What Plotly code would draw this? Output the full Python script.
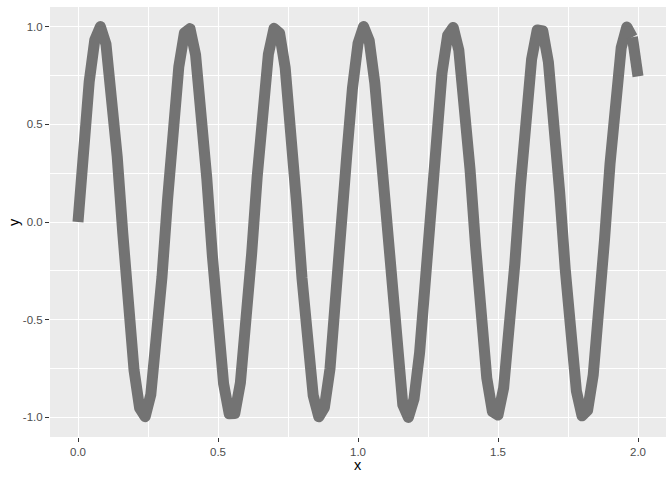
import plotly.graph_objects as go

x_vals = [round(0.02 * i, 2) for i in range(101)]
y_vals = [
    0.0000, 0.3894, 0.7174, 0.9320, 0.9996, 0.9093, 0.6755, 0.3350, -0.0584, -0.4425,
    -0.7568, -0.9516, -0.9962, -0.8835, -0.6313, -0.2794, 0.1165, 0.4941, 0.7937, 0.9679,
    0.9894, 0.8546, 0.5849, 0.2229, -0.1743, -0.5440, -0.8278, -0.9811, -0.9792, -0.8228,
    -0.5366, -0.1656, 0.2315, 0.5921, 0.8589, 0.9906, 0.9657, 0.7880, 0.4863, 0.1078,
    -0.2879, -0.6381, -0.8876, -0.9968, -0.9495, -0.7510, -0.4345, -0.0496, 0.3433, 0.6819,
    0.9129, 0.9998, 0.9289, 0.7115, 0.3820, -0.0089, -0.3971, -0.7254, -0.9350, -0.9997,
    -0.9056, -0.6685, -0.3268, 0.0672, 0.4505, 0.7626, 0.9543, 0.9954, 0.8797, 0.6247,
    0.2709, -0.1252, -0.5019, -0.7991, -0.9702, -0.9880, -0.8505, -0.5785, -0.2144, 0.1830,
    0.5514, 0.8327, 0.9826, 0.9773, 0.8180, 0.5291, 0.1567, -0.2400, -0.5989, -0.8645,
    -0.9918, -0.9638, -0.7840, -0.4805, -0.0989, 0.2964, 0.6450, 0.8915, 0.9976, 0.9459,
    0.7451,
]

x_ticks = [0.0, 0.5, 1.0, 1.5, 2.0]
x_labels = ["0.0", "0.5", "1.0", "1.5", "2.0"]
y_ticks = [-1.0, -0.5, 0.0, 0.5, 1.0]
y_labels = ["-1.0", "-0.5", "0.0", "0.5", "1.0"]
x_minor = [0.25, 0.75, 1.25, 1.75]
y_minor = [-0.75, -0.25, 0.25, 0.75]

line_color = "#737373"
font_family = "Liberation Sans, Arial, sans-serif"

fig = go.Figure()
fig.add_trace(go.Scatter(x=x_vals[:-1], y=y_vals[:-1], mode="lines",
                         line=dict(color=line_color, width=11), showlegend=False,
                         hoverinfo="skip"))
fig.add_trace(go.Scatter(x=x_vals[-2:], y=y_vals[-2:], mode="lines",
                         line=dict(color=line_color, width=11), showlegend=False,
                         hoverinfo="skip"))

axis_common = dict(
    showgrid=True, gridcolor="white", gridwidth=1.1,
    zeroline=False, showline=False, automargin=False,
    ticks="outside", ticklen=4, tickwidth=1, tickcolor="#333333",
    tickfont=dict(family=font_family, size=11.5, color="#4D4D4D"),
)

fig.update_layout(
    width=672, height=480,
    margin=dict(l=50, r=6, t=7, b=43, autoexpand=False),
    paper_bgcolor="white", plot_bgcolor="#EBEBEB",
    xaxis=dict(range=[-0.1, 2.1], tickvals=x_ticks, ticktext=x_labels,
               minor=dict(tickvals=x_minor, showgrid=True,
                          gridcolor="white", gridwidth=0.5, ticks=""),
               **axis_common),
    yaxis=dict(range=[-1.1, 1.1], tickvals=y_ticks, ticktext=y_labels,
               minor=dict(tickvals=y_minor, showgrid=True,
                          gridcolor="white", gridwidth=0.5, ticks=""),
               **axis_common),
    annotations=[
        dict(text="x", xref="paper", yref="paper", x=0.5, y=0, xanchor="center",
             yanchor="middle", yshift=-28, showarrow=False,
             font=dict(family=font_family, size=14.5, color="black")),
        dict(text="y", xref="paper", yref="paper", x=0, y=0.5, xanchor="center",
             yanchor="middle", xshift=-36, textangle=-90, showarrow=False,
             font=dict(family=font_family, size=14.5, color="black")),
    ],
)

post = """
document.body.style.margin = '0';
document.body.style.padding = '0';
document.body.style.overflow = 'hidden';
function fixJoins(){
  document.querySelectorAll('.scatterlayer path.js-line').forEach(function(p){
    p.style.strokeLinejoin = 'round';
    p.style.strokeLinecap = 'butt';
  });
}
fixJoins();
var gd = document.querySelector('.plotly-graph-div');
if (gd && gd.on) { gd.on('plotly_afterplot', fixJoins); }
"""

fig.write_html("out.html", post_script=post, config={"displayModeBar": False})
